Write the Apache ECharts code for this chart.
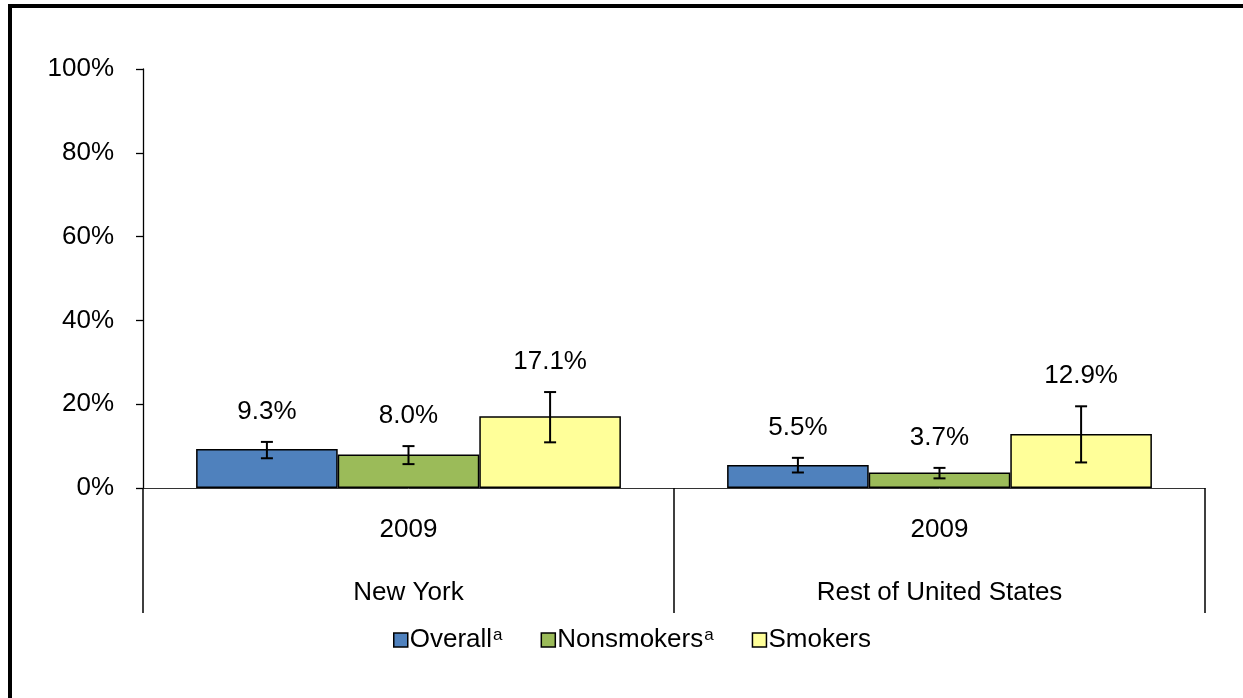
<!DOCTYPE html>
<html><head><meta charset="utf-8">
<script src="https://cdn.jsdelivr.net/npm/echarts@6/dist/echarts.min.js"></script>
<style>html,body{margin:0;padding:0;background:#fff}#c{width:1243px;height:698px}</style>
</head><body><div id="c"></div>
<script>
var categories = ['New York', 'Rest of United States'];
var years = ['2009', '2009'];
var seriesNames = ['Overall', 'Nonsmokers', 'Smokers'];
var overall = [9.3, 5.5];
var nonsmokers = [8.0, 3.7];
var smokers = [17.1, 12.9];
var overallLow = [7.1, 3.7], overallHigh = [11.0, 7.2];
var nonsmokersLow = [5.7, 2.3], nonsmokersHigh = [10.0, 4.8];
var smokersLow = [10.9, 6.1], smokersHigh = [22.9, 19.5];
var yTicks = [0, 20, 40, 60, 80, 100];

var colors = ['#4F81BD', '#9BBB59', '#FFFF99'];
var values = [overall, nonsmokers, smokers];
var lows = [overallLow, nonsmokersLow, smokersLow];
var highs = [overallHigh, nonsmokersHigh, smokersHigh];
var FONT = 'Liberation Sans, Arial, sans-serif';
var FS = 26;

var chart = echarts.init(document.getElementById('c'), null, {renderer: 'canvas'});
var series = [];
seriesNames.forEach(function (n, i) {
  series.push({
    name: n, type: 'bar', xAxisIndex: 0, data: values[i],
    barGap: '0%', barCategoryGap: '20%',
    itemStyle: {color: colors[i], borderColor: '#000', borderWidth: 1.5},
    emphasis: {disabled: true}, z: 2
  });
});
seriesNames.forEach(function (n, i) {
  series.push({
    type: 'custom', xAxisIndex: 0, z: 5, silent: true,
    data: categories.map(function (c, k) { return [k, lows[i][k], highs[i][k], values[i][k]]; }),
    renderItem: function (params, api) {
      var k = api.value(0);
      var lo = api.coord([k, api.value(1)]);
      var hi = api.coord([k, api.value(2)]);
      var catW = api.size([1, 0])[0];
      var bw = catW * 0.8 / 3;
      var x = lo[0] + (i - 1) * bw;
      var cap = 6;
      var st = {stroke: '#000', lineWidth: 2};
      return {type: 'group', children: [
        {type: 'line', shape: {x1: x, y1: lo[1], x2: x, y2: hi[1]}, style: st},
        {type: 'line', shape: {x1: x - cap, y1: lo[1], x2: x + cap, y2: lo[1]}, style: st},
        {type: 'line', shape: {x1: x - cap, y1: hi[1], x2: x + cap, y2: hi[1]}, style: st},
        {type: 'text', x: x, y: hi[1] - 30, style: {
          text: api.value(3).toFixed(1) + '%', fill: '#000', font: FS + 'px ' + FONT,
          align: 'center', verticalAlign: 'middle'}}
      ]};
    }
  });
});

chart.setOption({
  animation: false,
  textStyle: {fontFamily: FONT},
  grid: {left: 143, right: 38, top: 69, bottom: 210, containLabel: false},
  graphic: [{type: 'rect', shape: {x: 10, y: 6, width: 1400, height: 900},
    style: {fill: 'none', stroke: '#000', lineWidth: 4}, silent: true}],
  legend: {
    data: seriesNames, left: 388, top: 622, itemWidth: 14, itemHeight: 14, itemGap: 38,
    icon: 'rect',
    itemStyle: {borderColor: '#000', borderWidth: 1.5},
    formatter: function (n) { return n === 'Smokers' ? '{n|' + n + '}' : '{n|' + n + '}{s|a}'; },
    textStyle: {fontSize: FS, color: '#000', fontFamily: FONT, padding: [0, 0, 0, -3],
      rich: {n: {fontSize: FS, fontFamily: FONT, color: '#000'},
             s: {fontSize: 17, fontFamily: FONT, color: '#000', verticalAlign: 'top', padding: [0, 0, 8, 1]}}}
  },
  xAxis: [{
    type: 'category', data: categories, position: 'bottom',
    axisLine: {show: true, lineStyle: {color: '#333', width: 1}},
    axisTick: {show: true, interval: 0, length: 125, lineStyle: {color: '#000', width: 1.5}},
    axisLabel: {interval: 0, margin: 29, fontSize: FS, color: '#000',
      formatter: function (v, idx) { return years[idx]; }}
  }, {
    type: 'category', data: categories, position: 'bottom',
    axisLine: {show: false}, axisTick: {show: false},
    axisLabel: {interval: 0, margin: 92, fontSize: FS, color: '#000'}
  }],
  yAxis: {
    type: 'value', min: yTicks[0], max: yTicks[yTicks.length - 1], interval: 20,
    axisLine: {show: true, lineStyle: {color: '#000', width: 1.3}},
    axisTick: {show: true, length: 7, lineStyle: {color: '#000', width: 1.3}},
    splitLine: {show: false},
    axisLabel: {margin: 29, fontSize: FS, color: '#000', formatter: '{value}%'}
  },
  series: series
});
</script></body></html>
